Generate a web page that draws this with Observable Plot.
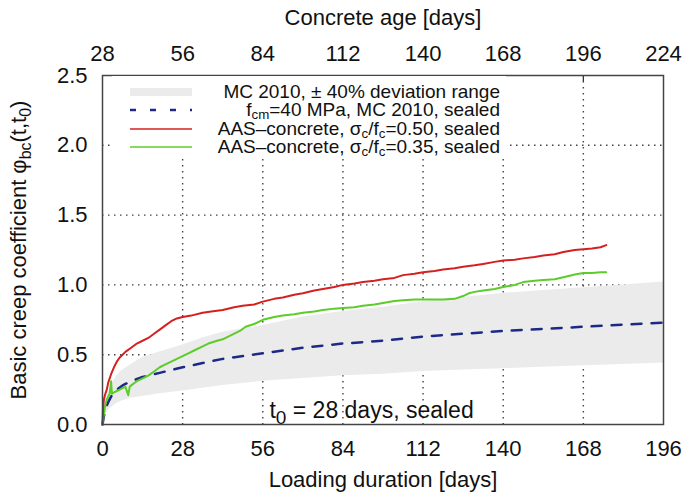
<!DOCTYPE html>
<html>
<head>
<meta charset="utf-8">
<script src="https://cdn.jsdelivr.net/npm/d3@7"></script>
<script src="https://cdn.jsdelivr.net/npm/@observablehq/plot@0.6"></script>
<style>
  html, body { margin: 0; padding: 0; background: #fff; }
  #wrap { position: relative; width: 688px; height: 496px; font-family: "Liberation Sans", Arial, sans-serif; color: #111; }
  #legend { position: absolute; left: 112px; top: 76px; width: 394px; height: 80px; background: #fff; padding-top: 7px; box-sizing: border-box; }
  .row { display: flex; align-items: center; height: 18.3px; font-size: 19px; line-height: 18.3px; }
  .row svg { margin-left: 18px; flex: none; }
  .row .lbl { flex: 1; text-align: right; padding-right: 6px; white-space: nowrap; }
  .row sub { font-size: 0.7em; vertical-align: -0.25em; line-height: 0; }
</style>
</head>
<body>
<div id="wrap"><div id="legend"></div></div>
<script>
// ---- data ----
const xTicks = [0, 28, 56, 84, 112, 140, 168, 196];
const yTicks = [0, 0.5, 1.0, 1.5, 2.0, 2.5];
const xGrid = [28, 56, 84, 112, 140, 168];
const yGrid = [0.5, 1.0, 1.5, 2.0];
const ageOffset = 28;

// MC 2010 model + deviation band
const mcDays  = [0, 0.5, 1, 2, 3, 5, 7, 10, 14, 20, 28, 35, 42, 56, 70, 84, 98, 112, 126, 140, 154, 168, 182, 196];
const mcPhi   = [0, 0.06, 0.11, 0.16, 0.20, 0.25, 0.28, 0.31, 0.34, 0.37, 0.41, 0.44, 0.47, 0.51, 0.55, 0.58, 0.60, 0.63, 0.65, 0.67, 0.685, 0.70, 0.715, 0.73];
const bandHi  = [0, 0.08, 0.15, 0.22, 0.28, 0.35, 0.39, 0.43, 0.48, 0.52, 0.57, 0.62, 0.66, 0.71, 0.77, 0.81, 0.84, 0.88, 0.91, 0.94, 0.96, 0.98, 1.00, 1.02];
const bandLo  = [0, 0.04, 0.07, 0.10, 0.12, 0.15, 0.17, 0.19, 0.20, 0.22, 0.24, 0.26, 0.28, 0.31, 0.33, 0.35, 0.36, 0.38, 0.39, 0.40, 0.41, 0.42, 0.43, 0.44];

// AAS-concrete, sigma/f = 0.50
const redDays = [0, 0.2, 0.5, 1, 1.5, 2, 3, 4, 5, 6, 7, 8, 10, 12, 14, 16, 18, 20, 22, 24, 26, 28, 31, 35, 38, 42, 46, 49, 53, 56, 60, 63, 67, 70, 74, 77, 81, 84, 88, 91, 95, 98, 102, 105, 109, 112, 116, 119, 123, 126, 130, 133, 137, 140, 144, 147, 151, 154, 158, 161, 165, 168, 171, 174, 176];
const redPhi  = [0, 0.12, 0.18, 0.22, 0.25, 0.30, 0.36, 0.41, 0.45, 0.48, 0.50, 0.52, 0.55, 0.58, 0.60, 0.62, 0.65, 0.68, 0.71, 0.74, 0.76, 0.77, 0.78, 0.80, 0.81, 0.82, 0.84, 0.85, 0.86, 0.88, 0.90, 0.91, 0.93, 0.94, 0.96, 0.97, 0.985, 1.00, 1.01, 1.02, 1.03, 1.04, 1.05, 1.07, 1.08, 1.09, 1.10, 1.11, 1.12, 1.13, 1.14, 1.15, 1.165, 1.175, 1.18, 1.19, 1.20, 1.21, 1.22, 1.235, 1.25, 1.255, 1.26, 1.27, 1.285];

// AAS-concrete, sigma/f = 0.35
const greenDays = [0, 0.3, 0.7, 1, 1.5, 2, 2.5, 3, 3.3, 4, 5, 6, 7, 8, 9, 9.5, 10, 12, 14, 16, 18, 20, 22, 24, 26, 28, 30, 32, 35, 37, 40, 42, 45, 48, 50, 53, 56, 60, 63, 67, 70, 74, 77, 81, 84, 88, 91, 95, 98, 102, 105, 109, 112, 116, 119, 123, 126, 128, 130, 133, 137, 140, 144, 147, 151, 154, 158, 161, 165, 168, 171, 174, 176];
const greenPhi  = [0, 0.05, 0.10, 0.14, 0.18, 0.20, 0.22, 0.31, 0.22, 0.23, 0.24, 0.25, 0.26, 0.27, 0.21, 0.27, 0.28, 0.31, 0.33, 0.35, 0.38, 0.41, 0.43, 0.45, 0.47, 0.49, 0.51, 0.53, 0.56, 0.58, 0.60, 0.61, 0.64, 0.67, 0.70, 0.72, 0.75, 0.77, 0.78, 0.79, 0.80, 0.81, 0.82, 0.83, 0.835, 0.84, 0.85, 0.86, 0.87, 0.885, 0.89, 0.895, 0.895, 0.895, 0.895, 0.90, 0.92, 0.94, 0.95, 0.96, 0.97, 0.985, 1.00, 1.02, 1.03, 1.035, 1.04, 1.055, 1.075, 1.085, 1.085, 1.09, 1.09];

const legendLabels = [
  "MC 2010, ± 40% deviation range",
  "f<sub>cm</sub>=40 MPa, MC 2010, sealed",
  "AAS–concrete, σ<sub>c</sub>/f<sub>c</sub>=0.50, sealed",
  "AAS–concrete, σ<sub>c</sub>/f<sub>c</sub>=0.35, sealed"
];
const annotation = {day: 94, phi: 0.1, text: "t0 = 28 days, sealed"};
const xLabel = "Loading duration [days]";
const topLabel = "Concrete age [days]";
const yLabel = "Basic creep coefficient φbc(t,t0)";

// ---- styles ----
const colors = {band: "#ebebeb", mc: "#1c2a86", red: "#d42020", green: "#5ccc2a"};

const band = mcDays.map((d, i) => ({day: d, lo: bandLo[i], hi: bandHi[i]}));
const mc = mcDays.map((d, i) => ({day: d, phi: mcPhi[i]}));
const red = redDays.map((d, i) => ({day: d, phi: redPhi[i]}));
const green = greenDays.map((d, i) => ({day: d, phi: greenPhi[i]}));

const gridStyle = {stroke: "#222", strokeWidth: 1.4, strokeDasharray: "1.5,4.5", strokeOpacity: 0.85};

const chart = Plot.plot({
  width: 688, height: 496,
  marginLeft: 102, marginRight: 25, marginTop: 75, marginBottom: 72,
  style: {fontFamily: "'Liberation Sans', Arial, sans-serif", fontSize: "22px", color: "#111", background: "transparent"},
  x: {domain: [0, 196]},
  y: {domain: [0, 2.5]},
  marks: [
    Plot.ruleX(xGrid, gridStyle),
    Plot.ruleY(yGrid, gridStyle),
    Plot.areaY(band, {x: "day", y1: "lo", y2: "hi", fill: colors.band}),
    Plot.line(mc, {x: "day", y: "phi", stroke: colors.mc, strokeWidth: 2.5, strokeDasharray: "10,10"}),
    Plot.line(green, {x: "day", y: "phi", stroke: colors.green, strokeWidth: 2}),
    Plot.line(red, {x: "day", y: "phi", stroke: colors.red, strokeWidth: 2}),
    Plot.ruleX(xGrid, {y1: 2.455, y2: 2.5, stroke: "#333", strokeWidth: 1.3}),
    Plot.text([annotation], {x: "day", y: "phi", text: "text", fontSize: 23, fill: "#111"}),
    Plot.frame({stroke: "#444", strokeWidth: 1.5}),
    Plot.axisX({anchor: "bottom", ticks: xTicks, tickSize: 0, tickPadding: 16, label: xLabel, labelAnchor: "center", labelOffset: 62, labelArrow: "none"}),
    Plot.axisX({anchor: "top", ticks: xTicks, tickSize: 0, tickPadding: 15, tickFormat: d => String(d + ageOffset), label: topLabel, labelAnchor: "center", labelOffset: 66, labelArrow: "none"}),
    Plot.axisY({anchor: "left", ticks: yTicks, tickSize: 0, tickPadding: 15, tickFormat: d3.format(".1f"), label: yLabel, labelAnchor: "center", labelOffset: 92, labelArrow: "none"})
  ]
});

document.getElementById("wrap").prepend(chart);

// subscripts in SVG texts
const svg = d3.select(chart.tagName.toLowerCase() === "svg" ? chart : chart.querySelector("svg"));
svg.selectAll("text").each(function() {
  const t = this.textContent;
  if (t === yLabel) {
    this.innerHTML = 'Basic creep coefficient φ<tspan dy="5" font-size="16">bc</tspan><tspan dy="-5">(t,t</tspan><tspan dy="5" font-size="16">0</tspan><tspan dy="-5">)</tspan>';
  } else if (t === annotation.text) {
    this.innerHTML = 't<tspan dy="6" font-size="19">0</tspan><tspan dy="-6"> = 28 days, sealed</tspan>';
  }
});

// legend
const swatches = [
  `<svg width="62" height="10"><rect x="0" y="1" width="62" height="8" fill="${colors.band}"/></svg>`,
  `<svg width="62" height="10"><line x1="0" y1="5" x2="62" y2="5" stroke="${colors.mc}" stroke-width="2.5" stroke-dasharray="6,14"/></svg>`,
  `<svg width="62" height="10"><line x1="0" y1="5" x2="62" y2="5" stroke="${colors.red}" stroke-width="1.6"/></svg>`,
  `<svg width="62" height="10"><line x1="0" y1="5" x2="62" y2="5" stroke="${colors.green}" stroke-width="1.6"/></svg>`
];
document.getElementById("legend").innerHTML = legendLabels.map((l, i) =>
  `<div class="row">${swatches[i]}<span class="lbl">${l}</span></div>`).join("");
</script>
</body>
</html>
